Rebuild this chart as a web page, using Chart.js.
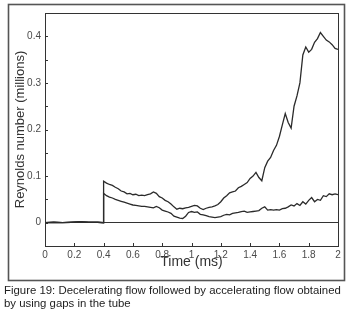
<!DOCTYPE html>
<html>
<head>
<meta charset="utf-8">
<script src="https://cdn.jsdelivr.net/npm/chart.js@4.4.1/dist/chart.umd.min.js"></script>
<style>
  html, body { margin: 0; padding: 0; background: #fff; }
  #wrap { position: relative; width: 351px; height: 310px; }
</style>
</head>
<body>
<div id="wrap"><canvas id="reynolds" width="351" height="310"></canvas></div>
<script>
// tiempo (ms)
const tiempoPrevio = [0, 0.06, 0.12, 0.18, 0.24, 0.3, 0.36, 0.4];
const valorPrevio  = [0, 0.001, 0, 0.001, 0.002, 0.001, 0.001, 0];

const tiempo = [
  0.40, 0.42, 0.44, 0.46, 0.48, 0.50, 0.52, 0.54, 0.56, 0.58,
  0.60, 0.62, 0.64, 0.66, 0.68, 0.70, 0.72, 0.74, 0.76, 0.78,
  0.80, 0.82, 0.84, 0.86, 0.88, 0.90, 0.92, 0.94, 0.96, 0.98,
  1.00, 1.02, 1.04, 1.06, 1.08, 1.10, 1.12, 1.14, 1.16, 1.18,
  1.20, 1.22, 1.24, 1.26, 1.28, 1.30, 1.32, 1.34, 1.36, 1.38,
  1.40, 1.42, 1.44, 1.46, 1.48, 1.50, 1.52, 1.54, 1.56, 1.58,
  1.60, 1.62, 1.64, 1.66, 1.68, 1.70, 1.72, 1.74, 1.76, 1.78,
  1.80, 1.82, 1.84, 1.86, 1.88, 1.90, 1.92, 1.94, 1.96, 1.98,
  2.00
];

// numero de Reynolds (millones) - curva superior
const reynoldsSuperior = [
  0.089, 0.085, 0.082, 0.080, 0.076, 0.073, 0.068, 0.066, 0.062, 0.063,
  0.060, 0.061, 0.058, 0.059, 0.058, 0.060, 0.062, 0.066, 0.063, 0.056,
  0.053, 0.048, 0.045, 0.040, 0.034, 0.029, 0.031, 0.030, 0.032, 0.033,
  0.035, 0.037, 0.036, 0.031, 0.028, 0.031, 0.033, 0.034, 0.036, 0.039,
  0.045, 0.053, 0.058, 0.064, 0.066, 0.068, 0.075, 0.078, 0.082, 0.086,
  0.095, 0.100, 0.108, 0.097, 0.090, 0.118, 0.132, 0.140, 0.155, 0.166,
  0.185, 0.210, 0.234, 0.215, 0.203, 0.250, 0.272, 0.300, 0.360, 0.377,
  0.366, 0.372, 0.387, 0.395, 0.408, 0.400, 0.392, 0.388, 0.382, 0.374,
  0.372
];

// curva inferior
const reynoldsInferior = [
  0.063, 0.058, 0.055, 0.053, 0.050, 0.048, 0.046, 0.044, 0.042, 0.040,
  0.038, 0.037, 0.036, 0.035, 0.035, 0.034, 0.033, 0.032, 0.035, 0.032,
  0.027, 0.025, 0.023, 0.020, 0.014, 0.012, 0.010, 0.009, 0.014, 0.022,
  0.024, 0.022, 0.023, 0.018, 0.017, 0.015, 0.013, 0.012, 0.011, 0.012,
  0.013, 0.016, 0.018, 0.017, 0.020, 0.021, 0.022, 0.024, 0.025, 0.022,
  0.023, 0.024, 0.025, 0.026, 0.031, 0.034, 0.027, 0.028, 0.027, 0.028,
  0.027, 0.030, 0.031, 0.034, 0.038, 0.036, 0.041, 0.037, 0.045, 0.040,
  0.048, 0.054, 0.045, 0.050, 0.048, 0.058, 0.056, 0.062, 0.060, 0.062,
  0.060
];

const ticksX = [0, 0.2, 0.4, 0.6, 0.8, 1, 1.2, 1.4, 1.6, 1.8, 2];
const etiquetasY = [0, 0.1, 0.2, 0.3, 0.4];
const leyenda = [
  'Figure 19: Decelerating flow followed by accelerating flow obtained',
  'by using gaps in the tube'
];

function armarSerie(valores) {
  const previo = tiempoPrevio.map((t, i) => ({ x: t, y: valorPrevio[i] }));
  return previo.concat(tiempo.map((t, i) => ({ x: t, y: valores[i] })));
}

const colorLinea = '#2b2b2b';
const colorTexto = '#4a4a4a';

// marco, caja del grafico, marcas hacia adentro y pie de figura
const marcoFigura = {
  id: 'marcoFigura',
  beforeDraw(chart) {
    const ctx = chart.ctx;
    ctx.save();
    ctx.fillStyle = '#fff';
    ctx.fillRect(0, 0, chart.width, chart.height);
    ctx.restore();
  },
  afterDraw(chart) {
    const { ctx, chartArea: a, scales } = chart;
    ctx.save();
    ctx.strokeStyle = '#555';
    ctx.lineWidth = 1.6;
    ctx.strokeRect(8.5, 4.5, 336, 276);

    ctx.strokeStyle = '#333';
    ctx.lineWidth = 1;
    ctx.strokeRect(Math.round(a.left) + 0.5, Math.round(a.top) + 0.5,
      Math.round(a.right - a.left), Math.round(a.bottom - a.top));

    ctx.beginPath();
    scales.y.ticks.forEach(t => {
      const y = Math.round(scales.y.getPixelForValue(t.value)) + 0.5;
      ctx.moveTo(a.left, y);
      ctx.lineTo(a.left + 3, y);
    });
    scales.x.ticks.forEach(t => {
      const x = Math.round(scales.x.getPixelForValue(t.value)) + 0.5;
      ctx.moveTo(x, a.bottom);
      ctx.lineTo(x, a.bottom - 3);
    });
    ctx.stroke();

    ctx.fillStyle = '#222';
    ctx.font = '11.4px "Liberation Sans", Arial, sans-serif';
    ctx.textBaseline = 'middle';
    ctx.textAlign = 'left';
    ctx.fillText(leyenda[0], 4, 291);
    ctx.fillText(leyenda[1], 4, 304);
    ctx.restore();
  }
};

const ctx = document.getElementById('reynolds').getContext('2d');
new Chart(ctx, {
  type: 'line',
  data: {
    datasets: [{
      label: 'superior',
      data: armarSerie(reynoldsSuperior),
      borderColor: colorLinea,
      borderWidth: 1.3,
      pointRadius: 0,
      tension: 0
    }, {
      label: 'inferior',
      data: armarSerie(reynoldsInferior),
      borderColor: colorLinea,
      borderWidth: 1.3,
      pointRadius: 0,
      tension: 0
    }]
  },
  options: {
    responsive: false,
    animation: false,
    devicePixelRatio: 1,
    layout: { padding: { left: 0, top: 13, right: 13, bottom: 39 } },
    plugins: { legend: { display: false }, tooltip: { enabled: false } },
    scales: {
      x: {
        type: 'linear',
        min: 0,
        max: 2,
        afterBuildTicks(scale) {
          scale.ticks = ticksX.map(v => ({ value: v }));
        },
        afterFit(scale) { scale.height = 25; },
        border: { display: false },
        grid: { display: false, drawTicks: false },
        ticks: {
          autoSkip: false,
          maxRotation: 0,
          padding: 3,
          color: colorTexto,
          font: { family: '"Liberation Sans", Arial, sans-serif', size: 10 },
          callback: v => String(v)
        },
        title: {
          display: true,
          text: 'Time (ms)',
          color: '#333',
          padding: 0,
          font: { family: '"Liberation Sans", Arial, sans-serif', size: 14 }
        }
      },
      y: {
        min: -0.05,
        max: 0.45,
        afterFit(scale) { scale.width = 45; },
        border: { display: false },
        grid: {
          drawTicks: false,
          lineWidth: 1,
          color: c => (c.tick && Math.abs(c.tick.value) < 1e-9 ? '#333' : 'rgba(0,0,0,0)')
        },
        ticks: {
          stepSize: 0.05,
          padding: 4,
          color: colorTexto,
          font: { family: '"Liberation Sans", Arial, sans-serif', size: 10 },
          callback: v => {
            const r = Math.round(v * 10) / 10;
            return etiquetasY.some(e => Math.abs(e - v) < 1e-6) ? String(r) : '';
          }
        },
        title: {
          display: true,
          text: 'Reynolds number (millions)',
          color: '#333',
          padding: { top: 13, bottom: 0 },
          font: { family: '"Liberation Sans", Arial, sans-serif', size: 13 }
        }
      }
    }
  },
  plugins: [marcoFigura]
});
</script>
</body>
</html>
